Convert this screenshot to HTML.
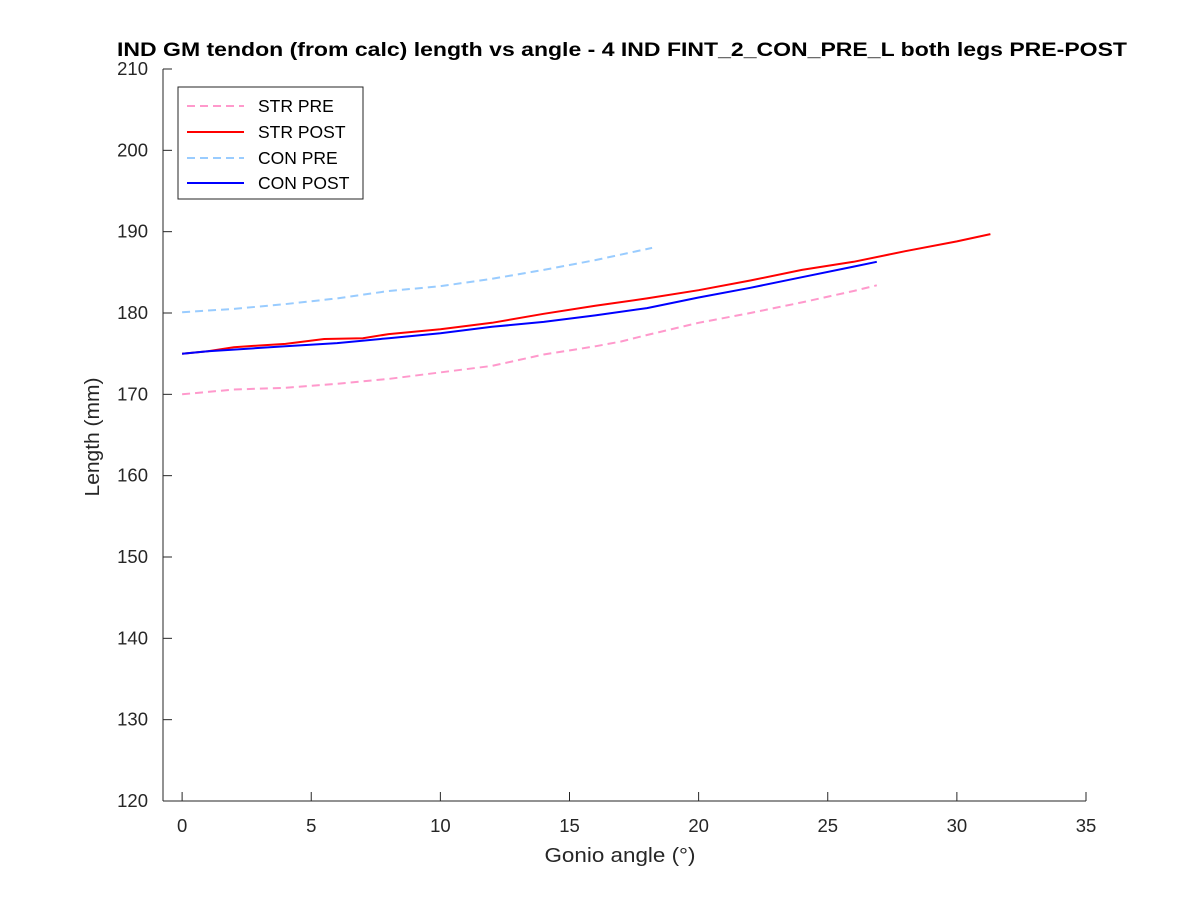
<!DOCTYPE html>
<html><head><meta charset="utf-8"><style>
body{margin:0;background:#fff;}
svg text{font-family:"Liberation Sans",sans-serif;fill:#262626;}
</style></head><body>
<svg id="chart" width="1200" height="900" xmlns="http://www.w3.org/2000/svg">
<rect width="1200" height="900" fill="#fff"/>
<text x="622" y="56" text-anchor="middle" font-size="19" font-weight="bold" textLength="1010" lengthAdjust="spacingAndGlyphs" style="fill:#000">IND GM tendon (from calc) length vs angle - 4 IND FINT_2_CON_PRE_L both legs PRE-POST</text>
<g id="axes"></g>
<g id="series"></g>
<text x="620" y="862" text-anchor="middle" font-size="20" textLength="151" lengthAdjust="spacingAndGlyphs">Gonio angle (°)</text>
<text transform="translate(99,437) rotate(-90)" text-anchor="middle" font-size="20" textLength="119" lengthAdjust="spacingAndGlyphs">Length (mm)</text>
<g>
<rect x="178" y="87" width="185" height="112" fill="#fff" stroke="#262626" stroke-width="1"/>
<line x1="187" y1="106" x2="244" y2="106" stroke="#ff99cc" stroke-width="2" stroke-dasharray="8,5"/>
<text x="258" y="112" font-size="17.5" style="fill:#000">STR PRE</text>
<line x1="187" y1="132" x2="244" y2="132" stroke="#ff0000" stroke-width="2"/>
<text x="258" y="138" font-size="17.5" style="fill:#000">STR POST</text>
<line x1="187" y1="158" x2="244" y2="158" stroke="#99ccff" stroke-width="2" stroke-dasharray="8,5"/>
<text x="258" y="164" font-size="17.5" style="fill:#000">CON PRE</text>
<line x1="187" y1="183" x2="244" y2="183" stroke="#0000ff" stroke-width="2"/>
<text x="258" y="189" font-size="17.5" style="fill:#000">CON POST</text>
</g>
</svg>
<script>
const xTicks=[0,5,10,15,20,25,30,35];
const yTicks=[120,130,140,150,160,170,180,190,200,210];
const strPreX=[0,2,4,6,8,10,12,14,16,17,18,20,22,24,26,26.9];
const strPreY=[170,170.6,170.8,171.3,171.9,172.7,173.5,174.9,175.9,176.5,177.3,178.8,180,181.3,182.7,183.4];
const strPostX=[0,1,2,3,4,5.5,7,8,10,12,14,16,18,20,22,24,26,28,30,31.3];
const strPostY=[175,175.3,175.8,176,176.2,176.8,176.9,177.4,178,178.8,179.9,180.9,181.8,182.8,184,185.3,186.3,187.6,188.8,189.7];
const conPreX=[0,2,4,6,8,10,12,14,16,18.2];
const conPreY=[180.1,180.5,181.1,181.8,182.7,183.3,184.2,185.3,186.5,188];
const conPostX=[0,1,2,4,6,8,10,12,14,16,18,20,22,24,26,26.9];
const conPostY=[175,175.3,175.5,175.9,176.3,176.9,177.5,178.3,178.9,179.7,180.6,181.9,183.1,184.4,185.7,186.3];
const X0=163,X1=1086,Y0=801,Y1=69,xmin=-0.74,xmax=35,ymin=120,ymax=210;
const sx=v=>X0+(v-xmin)/(xmax-xmin)*(X1-X0);
const sy=v=>Y0-(v-ymin)/(ymax-ymin)*(Y0-Y1);
const NS='http://www.w3.org/2000/svg';
const ax=document.getElementById('axes'),sg=document.getElementById('series');
function mk(t,a,p){const e=document.createElementNS(NS,t);for(const k in a)e.setAttribute(k,a[k]);p.appendChild(e);return e;}
const xl=mk('line',{x1:X0,y1:Y0,x2:X1,y2:Y0,stroke:'#262626'},ax);


const yl=mk('line',{x1:X0,y1:Y0,x2:X0,y2:Y1,stroke:'#262626'},ax);


xTicks.forEach(v=>{mk('line',{x1:sx(v),y1:Y0,x2:sx(v),y2:Y0-9,stroke:'#262626'},ax);
const t=mk('text',{x:sx(v),y:Y0+31,'text-anchor':'middle','font-size':'18.5'},ax);t.textContent=v;

});
yTicks.forEach(v=>{mk('line',{x1:X0,y1:sy(v),x2:X0+9,y2:sy(v),stroke:'#262626'},ax);
const t=mk('text',{x:X0-15,y:sy(v)+6,'text-anchor':'end','font-size':'18.5'},ax);t.textContent=v;

});
function line(xs,ys,col,dash,name){const d=xs.map((x,i)=>(i?'L':'M')+sx(x).toFixed(1)+','+sy(ys[i]).toFixed(1)).join('');
const p=mk('path',{d:d,fill:'none',stroke:col,'stroke-width':2},sg);if(dash)p.setAttribute('stroke-dasharray','8,5');

}
line(strPreX,strPreY,'#ff99cc',true,'str-pre-line');
line(conPreX,conPreY,'#99ccff',true,'con-pre-line');
line(strPostX,strPostY,'#ff0000',false,'str-post-line');
line(conPostX,conPostY,'#0000ff',false,'con-post-line');
</script>
</body></html>
